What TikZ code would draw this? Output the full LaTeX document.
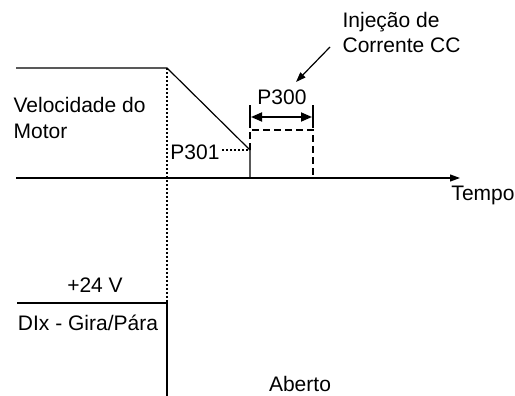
\documentclass[tikz,border=0pt]{standalone}
\usepackage{fontspec}
\setmainfont{Liberation Sans}
\usetikzlibrary{arrows.meta}

\begin{document}
\begin{tikzpicture}[x=0.5pt,y=-0.5pt,line width=0.6pt,
		font=\fontsize{10.5}{13}\selectfont,
		lbl/.style={inner sep=0pt},
		dashln/.style={dash pattern=on 3.5pt off 2pt},
		dotln/.style={dash pattern=on 0.8pt off 1.2pt}]
	\useasboundingbox (0,0) rectangle (515,396);
	% velocidade do motor
	\coordinate (v0) at (16,68);
	\coordinate (v1) at (167,68);
	\coordinate (v2) at (250,150);
	\coordinate (v3) at (250,178);
	\coordinate (v4) at (337,178);
	\coordinate (t0) at (16,178);
	\coordinate (t1) at (460,178);
	\draw (v0)--(v1)--(v2)--(v3);
	\draw[line width=1pt] (v3)--(v4);
	\draw[-{Triangle[length=5pt,width=3.5pt]}] (t0)--(t1);
	% injecao de corrente
	\coordinate (d0) at (250,130);
	\coordinate (d1) at (313,130);
	\coordinate (d2) at (313,178);
	\draw[dashln] (v2)--(d0)--(d1)--(d2);
	\coordinate (e0) at (250,105);
	\coordinate (e1) at (250,128);
	\coordinate (e2) at (313,105);
	\coordinate (e3) at (313,128);
	\draw (e0)--(e1) (e2)--(e3);
	\coordinate (m0) at (251,117);
	\coordinate (m1) at (312,117);
	\draw[line width=0.9pt,{Triangle[length=5.5pt,width=4.5pt]}-{Triangle[length=5.5pt,width=4.5pt]}] (m0)--(m1);
	\node[lbl] (p300) at (282,97) {P300};
	\node[lbl] (p301) at (195,152) {P301};
	\coordinate (p1) at (222,150);
	\draw[dotln] (p1)--(v2);
	% entrada digital
	\coordinate (g0) at (167,303);
	\coordinate (g1) at (17,303);
	\coordinate (g2) at (167,396);
	\draw[dotln] (v1)--(g0);
	\draw (g1)--(g0)--(g2);
	% textos
	\node[lbl,anchor=base west,align=left] (vel) at (13,138) {Velocidade do\\Motor};
	\node[lbl] (tempo) at (483,195) {Tempo};
	\node[lbl,anchor=base west,align=left] (inj) at (342,53) {Injeção de\\Corrente CC};
	\node[lbl] (v24) at (95,285) {+24 V};
	\node[lbl] (dix) at (88,323) {DIx - Gira/Pára};
	\node[lbl] (aberto) at (300,384) {Aberto};
	\coordinate (a0) at (330,47);
	\coordinate (a1) at (296,82);
	\draw[-{Triangle[length=5pt,width=3.5pt]}] (a0)--(a1);
\end{tikzpicture}
\end{document}
